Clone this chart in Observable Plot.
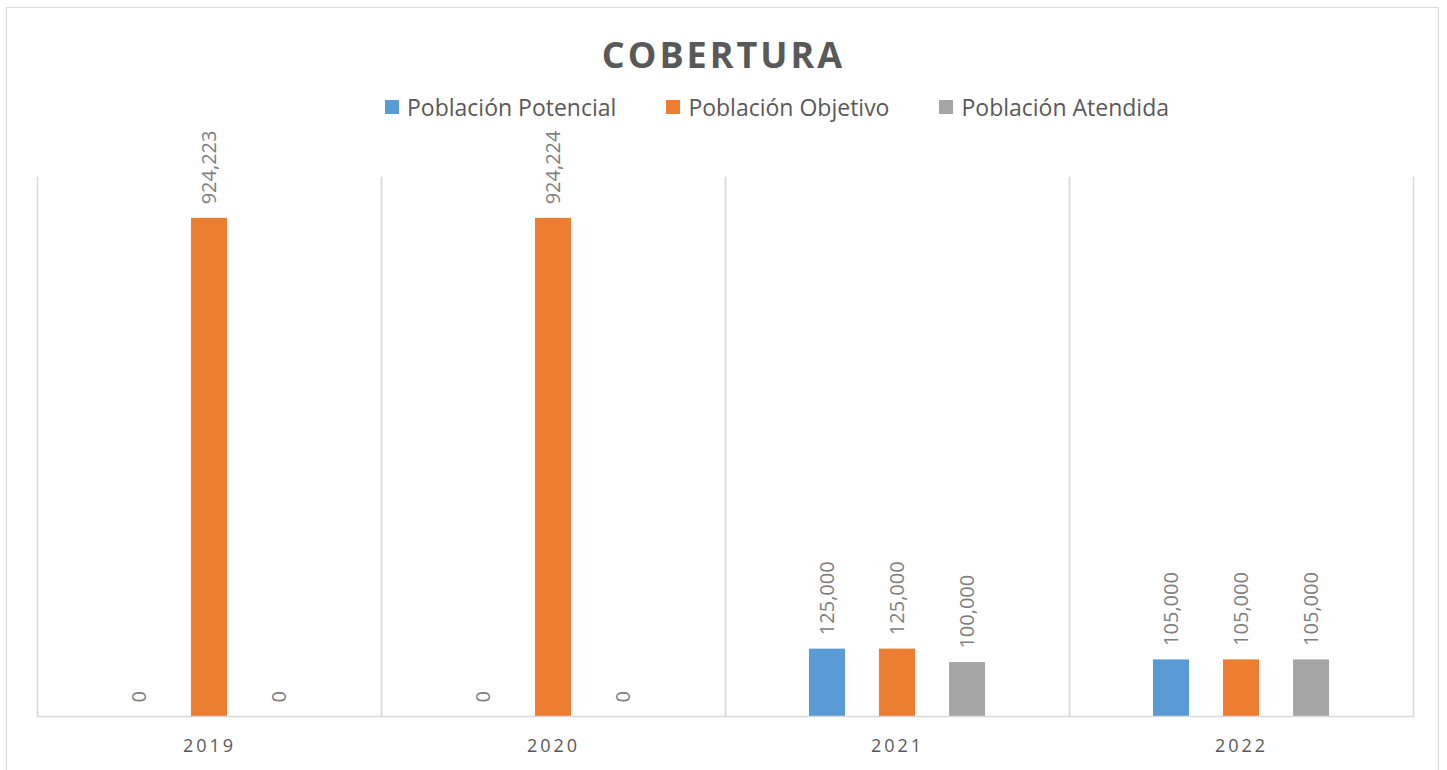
<!DOCTYPE html>
<html>
<head>
<meta charset="utf-8">
<script src="https://cdn.jsdelivr.net/npm/d3@7"></script>
<script src="https://cdn.jsdelivr.net/npm/@observablehq/plot@0.6"></script>
<style>
  html, body { margin: 0; padding: 0; background: #fff; width: 1447px; height: 770px; overflow: hidden; }
  #frame { position: absolute; left: 6px; top: 7px; width: 1433px; height: 800px; border: 1.5px solid #d9d9d9; box-sizing: border-box; }
  #title { position: absolute; left: 0; width: 1447px; top: 30px; text-align: center; font-family: "Open Sans", sans-serif; font-weight: 700; font-size: 36px; letter-spacing: 3px; color: #595959; line-height: 50px; }
  #legend { position: absolute; left: 385px; top: 92px; display: flex; font-family: "Open Sans", sans-serif; font-size: 23px; color: #595959; line-height: 30px; }
  .item { display: flex; align-items: center; margin-right: 50px; }
  .sw { width: 14px; height: 14px; margin-right: 8px; }
  #chart { position: absolute; left: 0; top: 120px; }
  #chart svg [aria-label^="fx-axis"] text { letter-spacing: 3px; }
</style>
</head>
<body>
<div id="frame"></div>
<div id="title">COBERTURA</div>
<div id="legend"></div>
<div id="chart"></div>
<script>
const years = ["2019", "2020", "2021", "2022"];
const seriesNames = ["Población Potencial", "Población Objetivo", "Población Atendida"];
const seriesColors = ["#5b9bd5", "#ed7d31", "#a5a5a5"];
const potencial = [0, 0, 125000, 105000];
const objetivo = [924223, 924224, 125000, 105000];
const atendida = [0, 0, 100000, 105000];

const seriesValues = [potencial, objetivo, atendida];
const data = [];
years.forEach((y, i) => {
  seriesNames.forEach((s, j) => {
    data.push({year: y, series: s, value: seriesValues[j][i]});
  });
});

const legend = document.getElementById("legend");
seriesNames.forEach((s, j) => {
  const it = document.createElement("div");
  it.className = "item";
  const sw = document.createElement("span");
  sw.className = "sw";
  sw.style.background = seriesColors[j];
  const tx = document.createElement("span");
  tx.textContent = s;
  it.appendChild(sw); it.appendChild(tx);
  legend.appendChild(it);
});

const fmt = d3.format(",");

const chart = Plot.plot({
  width: 1447,
  height: 650,
  marginLeft: 35,
  marginRight: 33,
  marginTop: 57,
  marginBottom: 54,
  style: {fontFamily: "Open Sans, sans-serif", fontSize: "18px", color: "#595959", background: "transparent"},
  fx: {domain: years, padding: 0, label: null, axis: "bottom", tickSize: 0, tickPadding: 23},
  x: {domain: seriesNames, paddingInner: 0.48, paddingOuter: 1.168, axis: null},
  y: {domain: [0, 1000000], axis: null},
  color: {domain: seriesNames, range: seriesColors},
  marks: [
    Plot.frame({anchor: "left", stroke: "#d9d9d9", strokeWidth: 1.5}),
    Plot.frame({anchor: "right", stroke: "#d9d9d9", strokeWidth: 1.5}),
    Plot.barY(data, {fx: "year", x: "series", y: "value", fill: "series"}),
    Plot.ruleY([0], {stroke: "#d9d9d9", strokeWidth: 1.5}),
    Plot.text(data, {fx: "year", x: "series", y: "value", text: d => fmt(d.value), rotate: -90, textAnchor: "start", dy: -14, fill: "#7f7f7f", fontSize: 20})
  ]
});
document.getElementById("chart").appendChild(chart);
</script>
</body>
</html>
